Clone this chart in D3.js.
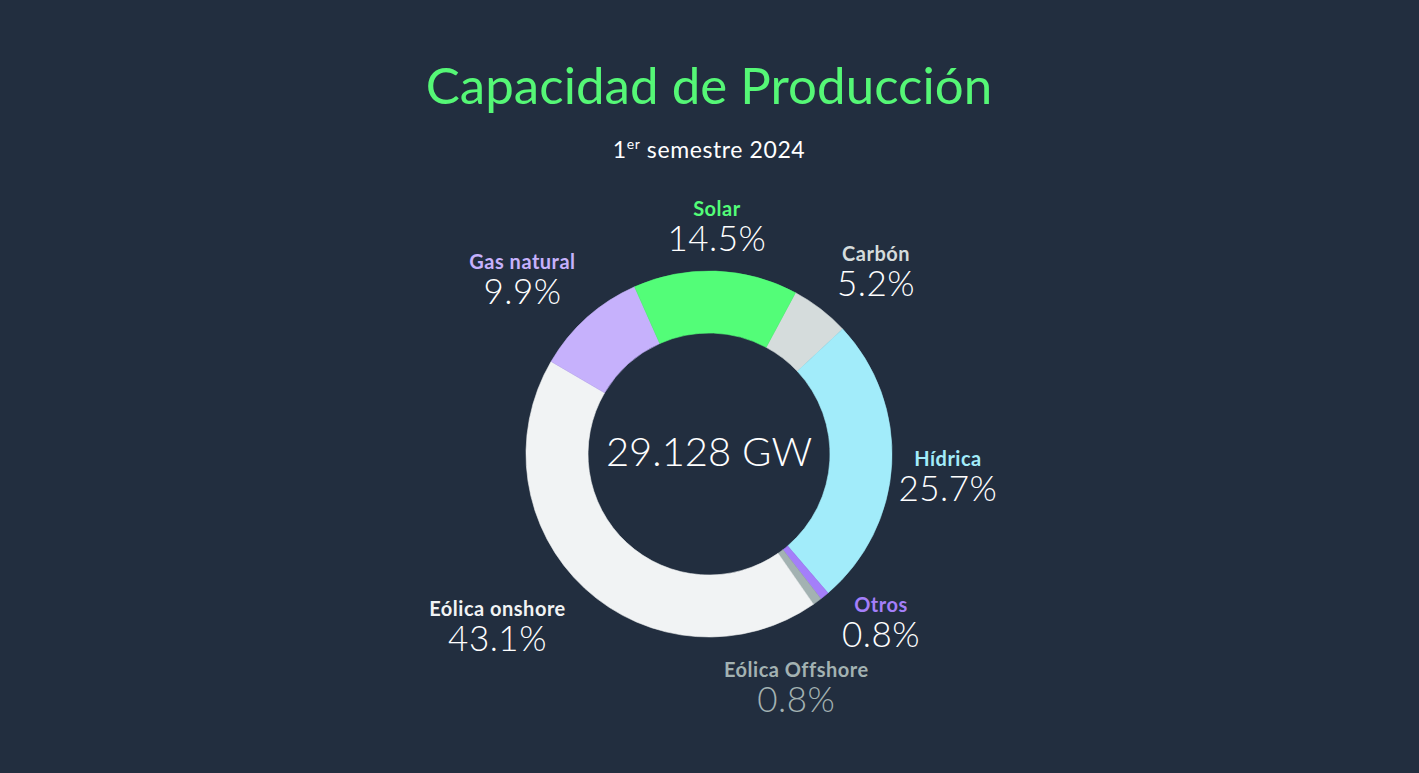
<!DOCTYPE html>
<html>
<head>
<meta charset="utf-8">
<script src="https://cdn.jsdelivr.net/npm/d3@7"></script>
<style>
  html, body { margin: 0; padding: 0; background: #222e3f; }
  svg { display: block; }
  text { font-family: Lato, "Open Sans", sans-serif; }
</style>
</head>
<body>
<svg id="chart" width="1419" height="773"></svg>
<script>
// ---- data ----
const categories = ["Carbón", "Hídrica", "Otros", "Eólica Offshore", "Eólica onshore", "Gas natural", "Solar"];
const shares = [5.2, 25.7, 0.8, 0.8, 43.1, 9.9, 14.5];
const totalLabel = "29.128 GW";
const title = "Capacidad de Producción";
const subtitleParts = ["1", "er", " semestre 2024"];

// ---- styles / layout (not data) ----
const sliceColors = ["#d5dcdc", "#a2ecfa", "#a47ffa", "#a3b2b2", "#f1f3f4", "#c6b1fc", "#53fd78"];
const nameColors  = ["#d5dcdc", "#a2ecfa", "#a47ffa", "#a3b2b2", "#f1f3f4", "#c6b1fc", "#53fd78"];
const pctColors   = ["#ffffff", "#ffffff", "#ffffff", "#a3b2b2", "#ffffff", "#ffffff", "#ffffff"];
// label placement tweak: [angle delta (deg), radius]
const labelTweak = {
  "Carbón": [5.0, 247], "Hídrica": [2.2, 240], "Otros": [-6.4, 241],
  "Eólica Offshore": [15.8, 250], "Eólica onshore": [8.0, 273],
  "Gas natural": [-5.2, 255], "Solar": [-0.1, 227]
};

const W = 1419, H = 773;
const cx = 709, cy = 454;
const rOuter = 183, rInner = 121;
const startDeg = 28.2;

const svg = d3.select("#chart");
svg.append("rect").attr("width", W).attr("height", H).attr("fill", "#222e3f");

// title
svg.append("text")
  .attr("x", cx).attr("y", 104)
  .attr("text-anchor", "middle")
  .attr("fill", "#55f776")
  .attr("font-size", 51)
  .attr("font-weight", 400)
  .attr("letter-spacing", 0.05)
  .text(title);

const sub = svg.append("text")
  .attr("x", cx).attr("y", 158)
  .attr("text-anchor", "middle")
  .attr("fill", "#ffffff")
  .attr("font-size", 23)
  .attr("letter-spacing", 0.6);
sub.append("tspan").text(subtitleParts[0]);
sub.append("tspan").attr("font-size", 14).attr("dy", -9).text(subtitleParts[1]);
sub.append("tspan").attr("dy", 9).text(subtitleParts[2]);

const data = categories.map((c, i) => ({ name: c, value: shares[i], i }));

const start = startDeg * Math.PI / 180;
const pie = d3.pie().sort(null).value(d => d.value)
  .startAngle(start).endAngle(start + 2 * Math.PI);
const arcs = pie(data);
const arc = d3.arc().innerRadius(rInner).outerRadius(rOuter);

const g = svg.append("g").attr("transform", `translate(${cx},${cy})`);
g.selectAll("path.slice").data(arcs).join("path")
  .attr("class", "slice")
  .attr("d", arc)
  .attr("fill", d => sliceColors[d.data.i])
  .attr("stroke", d => sliceColors[d.data.i])
  .attr("stroke-width", 0.6)
  .attr("stroke-linejoin", "round");

// center label
g.append("text")
  .attr("x", 0).attr("y", 12)
  .attr("text-anchor", "middle")
  .attr("fill", "#ffffff")
  .attr("font-size", 40)
  .attr("font-weight", 300)
  .text(totalLabel);

// labels
const fmt = v => v.toFixed(1) + "%";
arcs.forEach(a => {
  const mid = (a.startAngle + a.endAngle) / 2;
  const tw = labelTweak[a.data.name];
  const ang = mid + tw[0] * Math.PI / 180;
  const r = tw[1];
  const lx = Math.sin(ang) * r;
  const ly = -Math.cos(ang) * r;
  const lg = g.append("g").attr("transform", `translate(${lx},${ly})`);
  lg.append("text")
    .attr("y", -11)
    .attr("text-anchor", "middle")
    .attr("fill", nameColors[a.data.i])
    .attr("font-size", 20)
    .attr("font-weight", 700)
    .attr("letter-spacing", 0.5)
    .text(a.data.name);
  lg.append("text")
    .attr("y", 24)
    .attr("text-anchor", "middle")
    .attr("fill", pctColors[a.data.i])
    .attr("font-size", 35)
    .attr("font-weight", 300)
    .attr("letter-spacing", 0.5)
    .text(fmt(a.data.value));
});
</script>
</body>
</html>
